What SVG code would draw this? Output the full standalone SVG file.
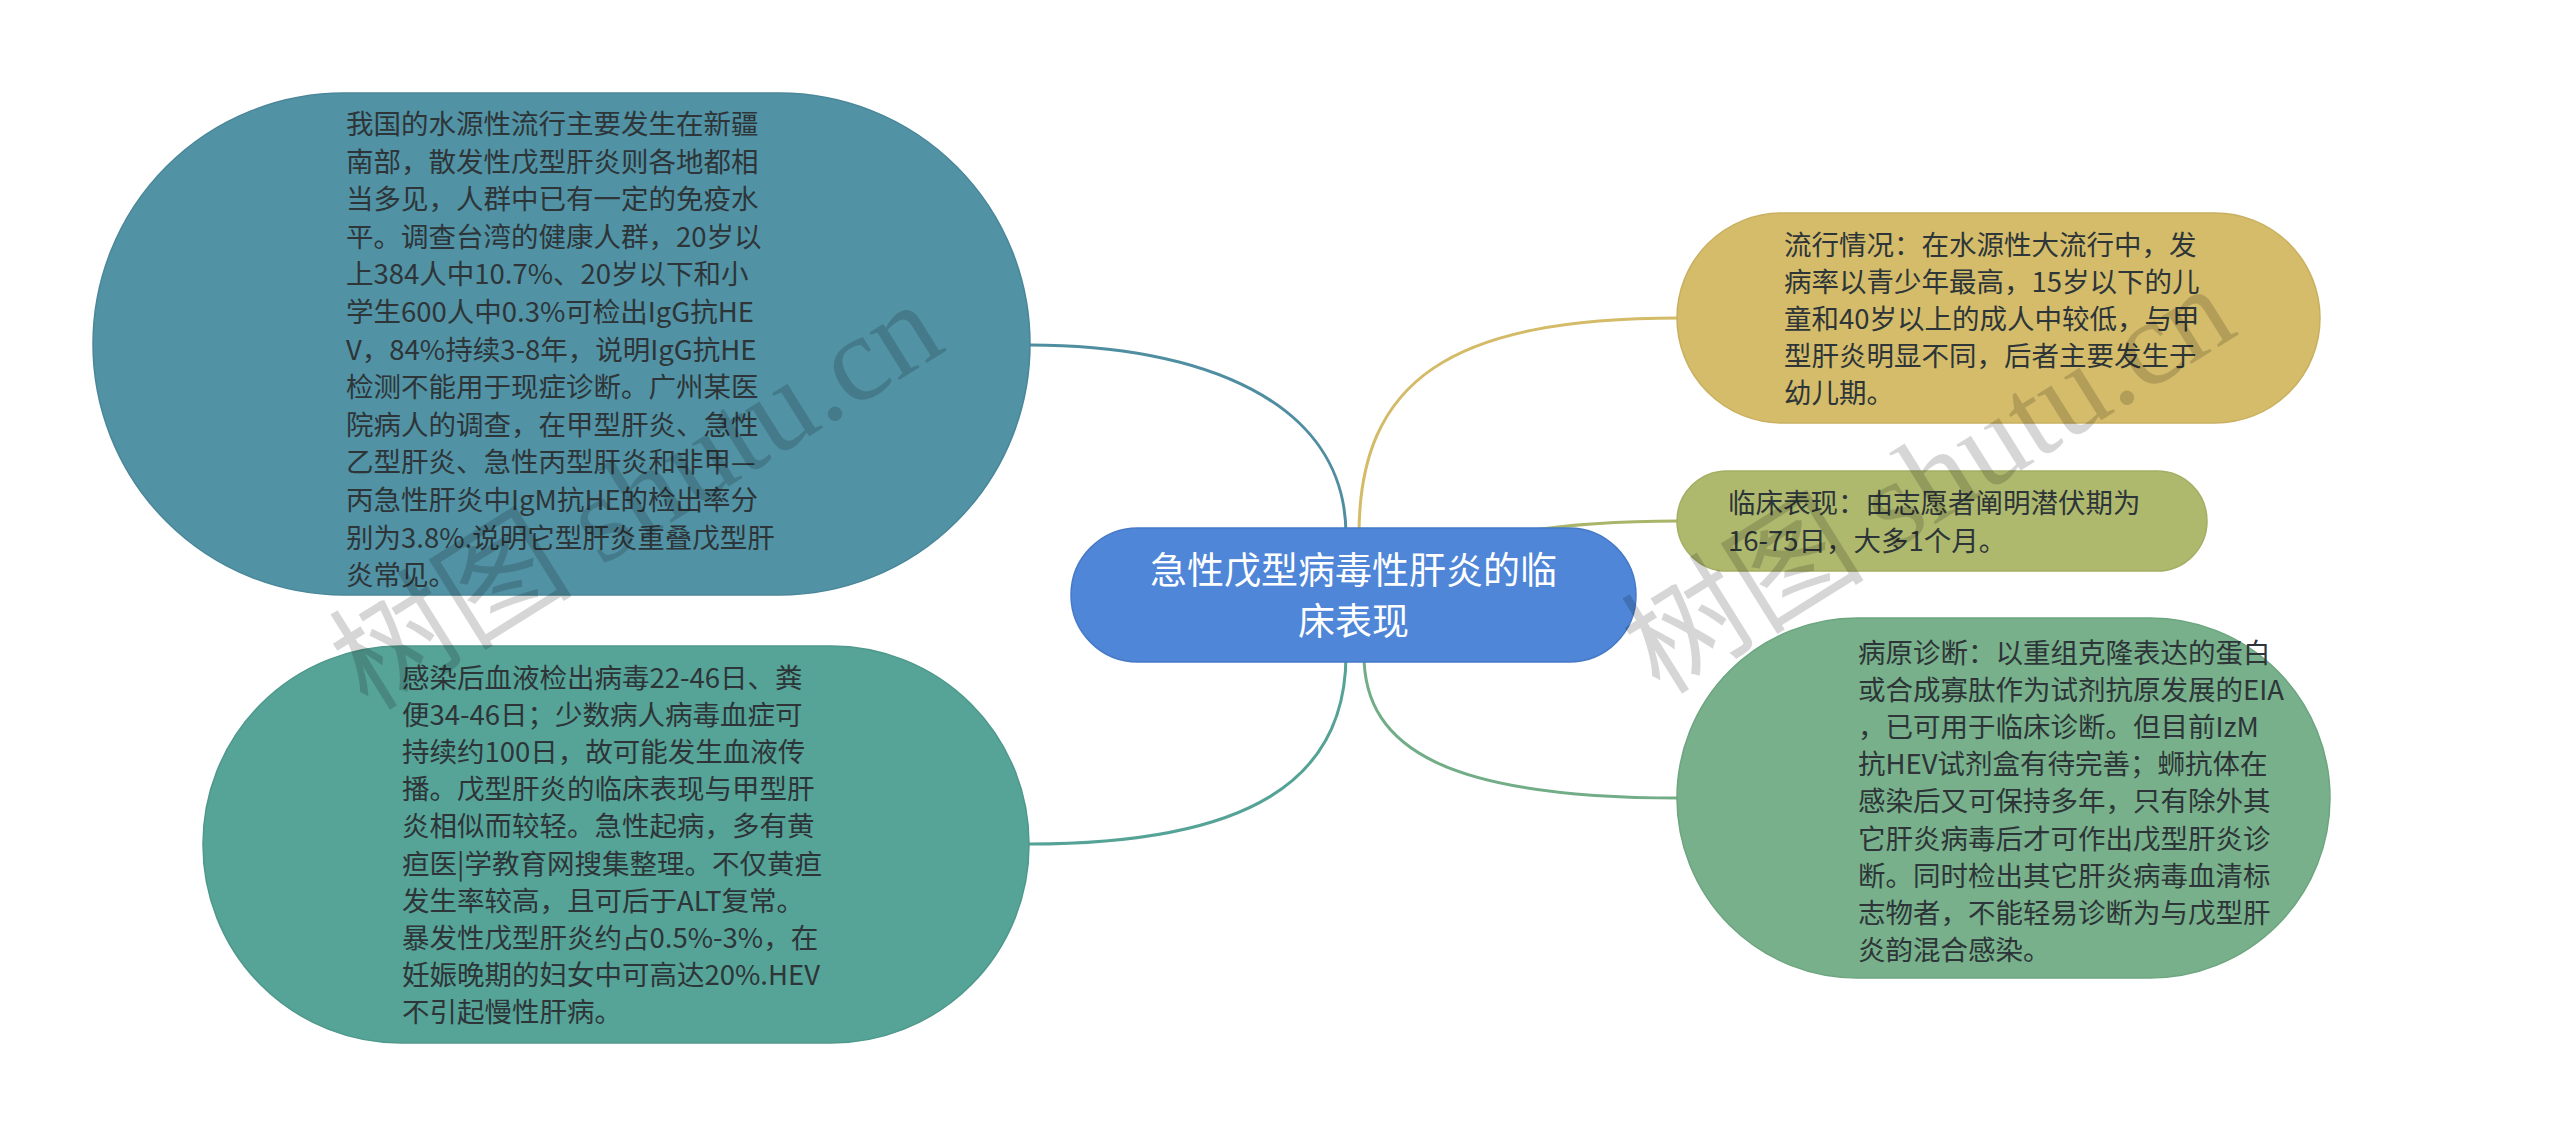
<svg xmlns="http://www.w3.org/2000/svg" width="2560" height="1135" viewBox="0 0 2560 1135">
<style>
.t{font-family:"Noto Sans CJK SC","Noto Sans",sans-serif;font-size:27.5px;fill:#2d3538}
.c{font-family:"Noto Sans CJK SC","Noto Sans",sans-serif;font-size:37px;fill:#ffffff}
.l{fill:none;stroke-width:3}
.wm{font-family:"Liberation Serif","Noto Sans CJK SC",serif;font-size:122px;fill:#000;fill-opacity:0.16}
</style>
<rect width="2560" height="1135" fill="#ffffff"/>
<g id="connectors">
<path class="l" stroke="#4f8ea1" d="M1030,345 C1200,345 1346,400 1346,535"/>
<path class="l" stroke="#55a396" d="M1029,844 C1250,844 1346,780 1346,655"/>
<path class="l" stroke="#d3bb68" d="M1359,535 C1359,380 1450,318 1679,318"/>
<path class="l" stroke="#aab56a" d="M1505,535 C1560,524 1620,521 1679,521"/>
<path class="l" stroke="#72ad88" d="M1364,655 C1364,750 1450,798 1679,798"/>
</g>
<g id="n1">
<rect x="93" y="93" width="937" height="502" rx="251" ry="251" fill="#5192a4" stroke="#4a879a" stroke-width="1.5"/>
<text class="t" x="346" y="134"><tspan x="346">我国的水源性流行主要发生在新疆</tspan><tspan x="346" dy="37.6">南部，散发性戊型肝炎则各地都相</tspan><tspan x="346" dy="37.6">当多见，人群中已有一定的免疫水</tspan><tspan x="346" dy="37.6">平。调查台湾的健康人群，20岁以</tspan><tspan x="346" dy="37.6">上384人中10.7%、20岁以下和小</tspan><tspan x="346" dy="37.6">学生600人中0.3%可检出IgG抗HE</tspan><tspan x="346" dy="37.6">V，84%持续3-8年，说明IgG抗HE</tspan><tspan x="346" dy="37.6">检测不能用于现症诊断。广州某医</tspan><tspan x="346" dy="37.6">院病人的调查，在甲型肝炎、急性</tspan><tspan x="346" dy="37.6">乙型肝炎、急性丙型肝炎和非甲—</tspan><tspan x="346" dy="37.6">丙急性肝炎中IgM抗HE的检出率分</tspan><tspan x="346" dy="37.6">别为3.8%.说明它型肝炎重叠戊型肝</tspan><tspan x="346" dy="37.6">炎常见。</tspan></text>
</g>
<g id="n2">
<rect x="203" y="646" width="826" height="397" rx="198" ry="198" fill="#56a397" stroke="#4f988c" stroke-width="1.5"/>
<text class="t" x="402" y="688"><tspan x="402">感染后血液检出病毒22-46日、粪</tspan><tspan x="402" dy="37.1">便34-46日；少数病人病毒血症可</tspan><tspan x="402" dy="37.1">持续约100日，故可能发生血液传</tspan><tspan x="402" dy="37.1">播。戊型肝炎的临床表现与甲型肝</tspan><tspan x="402" dy="37.1">炎相似而较轻。急性起病，多有黄</tspan><tspan x="402" dy="37.1">疸医|学教育网搜集整理。不仅黄疸</tspan><tspan x="402" dy="37.1">发生率较高，且可后于ALT复常。</tspan><tspan x="402" dy="37.1">暴发性戊型肝炎约占0.5%-3%，在</tspan><tspan x="402" dy="37.1">妊娠晚期的妇女中可高达20%.HEV</tspan><tspan x="402" dy="37.1">不引起慢性肝病。</tspan></text>
</g>
<g id="center">
<rect x="1071" y="528" width="565" height="134" rx="67" ry="67" fill="#4f86d8" stroke="#4679c6" stroke-width="1.5"/>
<text class="c" text-anchor="middle" x="1353.5" y="584"><tspan x="1353.5">急性戊型病毒性肝炎的临</tspan><tspan x="1353.5" dy="51">床表现</tspan></text>
</g>
<g id="n3">
<rect x="1677" y="213" width="643" height="210" rx="105" ry="105" fill="#d4bc6a" stroke="#c9b060" stroke-width="1.5"/>
<text class="t" x="1784" y="255"><tspan x="1784">流行情况：在水源性大流行中，发</tspan><tspan x="1784" dy="37">病率以青少年最高，15岁以下的儿</tspan><tspan x="1784" dy="37">童和40岁以上的成人中较低，与甲</tspan><tspan x="1784" dy="37">型肝炎明显不同，后者主要发生于</tspan><tspan x="1784" dy="37">幼儿期。</tspan></text>
</g>
<g id="n4">
<rect x="1677" y="471" width="530" height="100" rx="50" ry="50" fill="#afb96e" stroke="#a4ae64" stroke-width="1.5"/>
<text class="t" x="1728" y="513"><tspan x="1728">临床表现：由志愿者阐明潜伏期为</tspan><tspan x="1728" dy="38">16-75日，大多1个月。</tspan></text>
</g>
<g id="n5">
<rect x="1677" y="618" width="653" height="360" rx="180" ry="180" fill="#77b08a" stroke="#6ca580" stroke-width="1.5"/>
<text class="t" x="1858" y="663"><tspan x="1858">病原诊断：以重组克隆表达的蛋白</tspan><tspan x="1858" dy="37.1">或合成寡肽作为试剂抗原发展的EIA</tspan><tspan x="1858" dy="37.1">，已可用于临床诊断。但目前IzM</tspan><tspan x="1858" dy="37.1">抗HEV试剂盒有待完善；蛳抗体在</tspan><tspan x="1858" dy="37.1">感染后又可保持多年，只有除外其</tspan><tspan x="1858" dy="37.1">它肝炎病毒后才可作出戊型肝炎诊</tspan><tspan x="1858" dy="37.1">断。同时检出其它肝炎病毒血清标</tspan><tspan x="1858" dy="37.1">志物者，不能轻易诊断为与戊型肝</tspan><tspan x="1858" dy="37.1">炎韵混合感染。</tspan></text>
</g>
<g id="watermarks">
<text class="wm" transform="translate(368,712) rotate(-32)">树图 shutu.cn</text>
<text class="wm" transform="translate(1660,696) rotate(-32)">树图 shutu.cn</text>
</g>
</svg>
